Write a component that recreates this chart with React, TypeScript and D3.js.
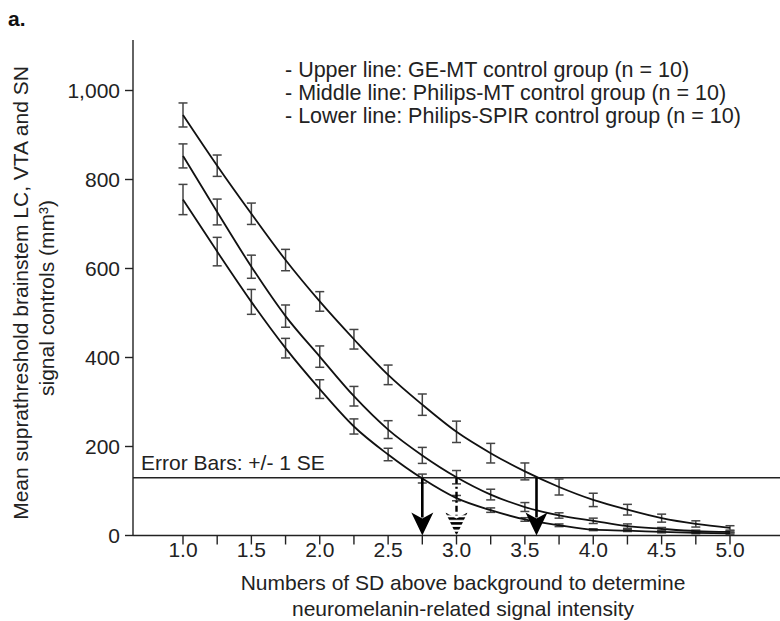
import React from "react";
import * as d3 from "d3";

// ---- data ----
const sdLevels = [1.0, 1.25, 1.5, 1.75, 2.0, 2.25, 2.5, 2.75, 3.0, 3.25, 3.5, 3.75, 4.0, 4.25, 4.5, 4.75, 5.0];
const upperMeans = [945, 831, 723, 619, 526, 441, 361, 294, 233, 185, 144, 109, 80, 58, 39, 26, 17];
const upperSE = [27, 24, 24, 24, 22, 22, 22, 24, 24, 22, 19, 18, 15, 12, 9, 7, 5];
const middleMeans = [853, 727, 604, 493, 402, 313, 238, 180, 131, 92, 64, 45, 33, 21, 15, 10, 8];
const middleSE = [27, 29, 26, 25, 24, 22, 20, 18, 15, 12, 10, 6, 6, 5, 3, 2, 2];
const lowerMeans = [755, 638, 525, 421, 329, 245, 182, 128, 84, 57, 36, 23, 13, 11, 8, 6, 5];
const lowerSE = [34, 32, 28, 22, 21, 17, 14, 10, 6, 5, 4, 3, 2, 2, 2, 2, 2];

const xTickValues = [1.0, 1.25, 1.5, 1.75, 2.0, 2.25, 2.5, 2.75, 3.0, 3.25, 3.5, 3.75, 4.0, 4.25, 4.5, 4.75, 5.0];
const xTickLabels = ["1.0", "1.5", "2.0", "2.5", "3.0", "3.5", "4.0", "4.5", "5.0"];
const yTicks = [0, 200, 400, 600, 800, 1000];
const yTickLabels = ["0", "200", "400", "600", "800", "1,000"];

const thresholdValue = 130;
const solidArrowSD = [2.75, 3.585];
const dashedArrowSD = [3.0];

const legendLines = [
  "- Upper line: GE-MT control group (n = 10)",
  "- Middle line: Philips-MT control group (n = 10)",
  "- Lower line: Philips-SPIR control group (n = 10)",
];
const xTitleLines = ["Numbers of SD above background to determine", "neuromelanin-related signal intensity"];
const yTitleLine1 = "Mean suprathreshold brainstem LC, VTA and SN";
const yTitleLine2 = "signal controls (mm³)";

const FONT = "'Liberation Sans', Arial, Helvetica, sans-serif";

export default function App() {
  const W = 780, H = 621;
  const x = d3.scaleLinear().domain([1, 5]).range([183, 730]);
  const y = d3.scaleLinear().domain([0, 1000]).range([535.5, 90.5]);
  const axisX = 133;
  const axisTop = 40;
  const y0 = y(0);

  const line = d3
    .line<[number, number]>()
    .x((d) => x(d[0]))
    .y((d) => y(d[1]))
    .curve(d3.curveMonotoneX);

  const series = [
    { means: upperMeans, se: upperSE },
    { means: middleMeans, se: middleSE },
    { means: lowerMeans, se: lowerSE },
  ];

  const capHalf = 4.5;
  const yT = y(thresholdValue);

  const headPath = (cx: number) =>
    `M${cx - 11},${y0 - 23} L${cx},${y0 - 17} L${cx + 11},${y0 - 23} L${cx},${y0} Z`;

  return (
    <svg
      width={W}
      height={H}
      style={{ position: "absolute", left: 0, top: 0, background: "#fff" }}
      fontFamily={FONT}
    >
      <defs>
        <pattern id="stripes" patternUnits="userSpaceOnUse" x={0} y={y0 - 23} width={40} height={4.8}>
          <rect x={0} y={0} width={40} height={2.6} fill="#000" />
        </pattern>
      </defs>
      <rect x={0} y={0} width={W} height={H} fill="#fff" />

      {/* panel label */}
      <text x={8} y={26} fontSize={21} fontWeight="bold" fill="#111">a.</text>

      {/* y axis */}
      <line x1={axisX} x2={axisX} y1={axisTop} y2={y0} stroke="#222" strokeWidth={1.4} />
      {yTicks.map((t, i) => (
        <g key={t}>
          <line x1={axisX - 8} x2={axisX} y1={y(t)} y2={y(t)} stroke="#222" strokeWidth={1.4} />
          <text x={axisX - 13} y={y(t)} dy="0.36em" textAnchor="end" fontSize={21} fill="#222">
            {yTickLabels[i]}
          </text>
        </g>
      ))}

      {/* x axis */}
      <line x1={axisX} x2={W} y1={y0} y2={y0} stroke="#222" strokeWidth={1.4} />
      {xTickValues.map((t) => (
        <line key={t} x1={x(t)} x2={x(t)} y1={y0} y2={y0 + 9} stroke="#222" strokeWidth={1.4} />
      ))}
      {xTickLabels.map((l) => (
        <text key={l} x={x(+l)} y={557} textAnchor="middle" fontSize={21} fill="#222">
          {l}
        </text>
      ))}
      {xTitleLines.map((l, i) => (
        <text key={l} x={463} y={590 + i * 26} textAnchor="middle" fontSize={21} fill="#222">
          {l}
        </text>
      ))}

      {/* y title */}
      <g transform="translate(28,293) rotate(-90)">
        <text x={0} y={0} textAnchor="middle" fontSize={21} fill="#222">{yTitleLine1}</text>
      </g>
      <g transform="translate(54,298) rotate(-90)">
        <text x={0} y={0} textAnchor="middle" fontSize={21} fill="#222">{yTitleLine2}</text>
      </g>

      {/* legend */}
      {legendLines.map((l, i) => (
        <text key={l} x={285} y={77 + i * 23} fontSize={21.5} fill="#222">
          {l}
        </text>
      ))}

      {/* threshold line */}
      <line x1={axisX} x2={W} y1={yT} y2={yT} stroke="#222" strokeWidth={1.5} />
      <text x={141} y={469.5} fontSize={21} fill="#222">Error Bars: +/- 1 SE</text>

      {/* error bars */}
      {series.map((s, si) =>
        s.means.map((m, i) => {
          const cx = x(sdLevels[i]);
          const top = y(m + s.se[i]);
          const bot = y(m - s.se[i]);
          return (
            <g key={`${si}-${i}`} stroke="#444" strokeWidth={1.5}>
              <line x1={cx} x2={cx} y1={top} y2={bot} />
              <line x1={cx - capHalf} x2={cx + capHalf} y1={top} y2={top} />
              <line x1={cx - capHalf} x2={cx + capHalf} y1={bot} y2={bot} />
            </g>
          );
        })
      )}

      {/* lines */}
      {series.map((s, si) => (
        <path
          key={si}
          d={line(s.means.map((m, i) => [sdLevels[i], m] as [number, number])) || ""}
          fill="none"
          stroke="#111"
          strokeWidth={1.8}
        />
      ))}

      {/* solid arrows */}
      {solidArrowSD.map((v) => {
        const cx = x(v);
        return (
          <g key={v}>
            <line x1={cx} x2={cx} y1={yT} y2={y0 - 18} stroke="#000" strokeWidth={2.6} />
            <path d={headPath(cx)} fill="#000" />
          </g>
        );
      })}

      {/* dashed arrow */}
      {dashedArrowSD.map((v) => {
        const cx = x(v);
        return (
          <g key={v}>
            <line
              x1={cx}
              x2={cx}
              y1={yT}
              y2={y0 - 20}
              stroke="#000"
              strokeWidth={2.4}
              strokeDasharray="6,3,2,3"
            />
            <path d={headPath(cx)} fill="url(#stripes)" />
          </g>
        );
      })}
    </svg>
  );
}
